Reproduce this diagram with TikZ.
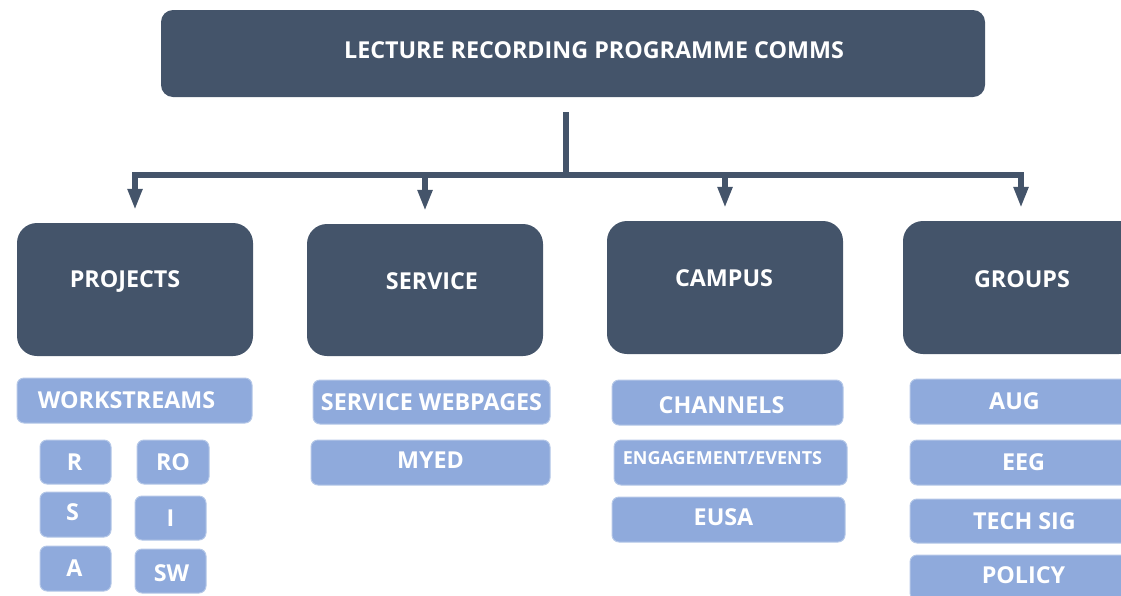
\documentclass[tikz,border=0pt]{standalone}
\usepackage{fontspec}
\setmainfont{Open Sans}
\usetikzlibrary{arrows.meta}
\definecolor{darkbox}{HTML}{44546A}
\definecolor{lightbox}{HTML}{8FAADC}
\definecolor{lightedge}{HTML}{B4C7E7}
\tikzset{
  titlebox/.style={fill=darkbox, rounded corners=12pt, inner sep=0pt},
  darkbox/.style={fill=darkbox, rounded corners=20pt, inner sep=0pt},
  lightbox/.style={fill=lightbox, draw=lightedge, line width=1pt, rounded corners=7pt, inner sep=0pt},
  txt/.style={text=white, font=\bfseries\fontsize{23.3}{26}\selectfont, inner sep=0pt},
  stxt/.style={text=white, font=\bfseries\fontsize{18}{20}\selectfont, inner sep=0pt},
  conn/.style={draw=darkbox, line width=6pt, line join=miter},
  arr/.style={conn, -{Triangle[width=14pt,length=21pt]}, shorten >=13pt},
}
\begin{document}
\begin{tikzpicture}[x=1pt, y=-1pt]
\useasboundingbox (0,0) rectangle (1121,595);
\clip (0,0) rectangle (1121,595);

% title
\node[titlebox, minimum width=824pt, minimum height=87pt,
  label={[txt,xshift=21pt,yshift=3.5pt]center:LECTURE RECORDING PROGRAMME COMMS}] (title) at (573,53.5) {};

% level 2
\node[darkbox, minimum width=236pt, minimum height=133pt,
  label={[txt,xshift=-10pt,yshift=8.5pt]center:PROJECTS}] (proj) at (135,289.5) {};
\node[darkbox, minimum width=236pt, minimum height=132pt,
  label={[txt,xshift=7pt,yshift=9pt]center:SERVICE}] (serv) at (425,290) {};
\node[darkbox, minimum width=236pt, minimum height=133pt,
  label={[txt,xshift=-1pt,yshift=9.5pt]center:CAMPUS}] (camp) at (725,287.5) {};
\node[darkbox, minimum width=236pt, minimum height=133pt,
  label={[txt,xshift=1pt,yshift=8.5pt]center:GROUPS}] (grp) at (1021,287.5) {};

% connectors
\coordinate (stem) at (566,112);
\coordinate (bar) at (566,175);
\draw[conn] (stem) -- (bar);
\draw[arr] (bar) -| (proj.north);
\draw[arr] (bar) -| (serv.north);
\draw[arr] (bar) -| (camp.north);
\draw[arr] (bar) -| (grp.north);

% projects column
\node[lightbox, minimum width=235pt, minimum height=45pt,
  label={[txt,xshift=-8pt]center:WORKSTREAMS}] (ws) at (134.5,400.5) {};
\node[lightbox, minimum width=71pt, minimum height=44pt,
  label={[txt,xshift=-1pt]center:R}] (r) at (75.5,462) {};
\node[lightbox, minimum width=72pt, minimum height=44pt,
  label={[txt]center:RO}] (ro) at (173,462) {};
\node[lightbox, minimum width=71pt, minimum height=45pt,
  label={[txt,xshift=-3pt,yshift=2pt]center:S}] (s) at (75.5,514.5) {};
\node[lightbox, minimum width=71pt, minimum height=44pt,
  label={[txt]center:I}] (i) at (170.5,518) {};
\node[lightbox, minimum width=71pt, minimum height=45pt,
  label={[txt,xshift=-1pt]center:A}] (a) at (75.5,568.5) {};
\node[lightbox, minimum width=71pt, minimum height=44pt,
  label={[txt,xshift=1pt,yshift=-2pt]center:SW}] (sw) at (170.5,571) {};

% service column
\node[lightbox, minimum width=237pt, minimum height=44pt,
  label={[txt]center:SERVICE WEBPAGES}] (web) at (431.5,402) {};
\node[lightbox, minimum width=239pt, minimum height=45pt,
  label={[txt,yshift=2pt]center:MYED}] (myed) at (430.5,462.5) {};

% campus column
\node[lightbox, minimum width=231pt, minimum height=45pt,
  label={[txt,xshift=-6pt,yshift=-3pt]center:CHANNELS}] (chan) at (727.5,402.5) {};
\node[lightbox, minimum width=233pt, minimum height=45pt,
  label={[stxt,xshift=-8pt,yshift=4pt]center:ENGAGEMENT/EVENTS}] (eng) at (730.5,462.5) {};
\node[lightbox, minimum width=233pt, minimum height=45pt,
  label={[txt,xshift=-5pt,yshift=2pt]center:EUSA}] (eusa) at (728.5,519.5) {};

% groups column
\node[lightbox, minimum width=233pt, minimum height=45pt,
  label={[txt,xshift=-12pt]center:AUG}] (aug) at (1026.5,401.5) {};
\node[lightbox, minimum width=233pt, minimum height=45pt,
  label={[txt,xshift=-3pt]center:EEG}] (eeg) at (1026.5,462.5) {};
\node[lightbox, minimum width=233pt, minimum height=44pt,
  label={[txt,xshift=-2pt]center:TECH SIG}] (tech) at (1026.5,521) {};
\node[lightbox, minimum width=233pt, minimum height=45pt,
  label={[txt,xshift=-3pt,yshift=2pt]center:POLICY}] (pol) at (1026.5,577.5) {};
\end{tikzpicture}
\end{document}
